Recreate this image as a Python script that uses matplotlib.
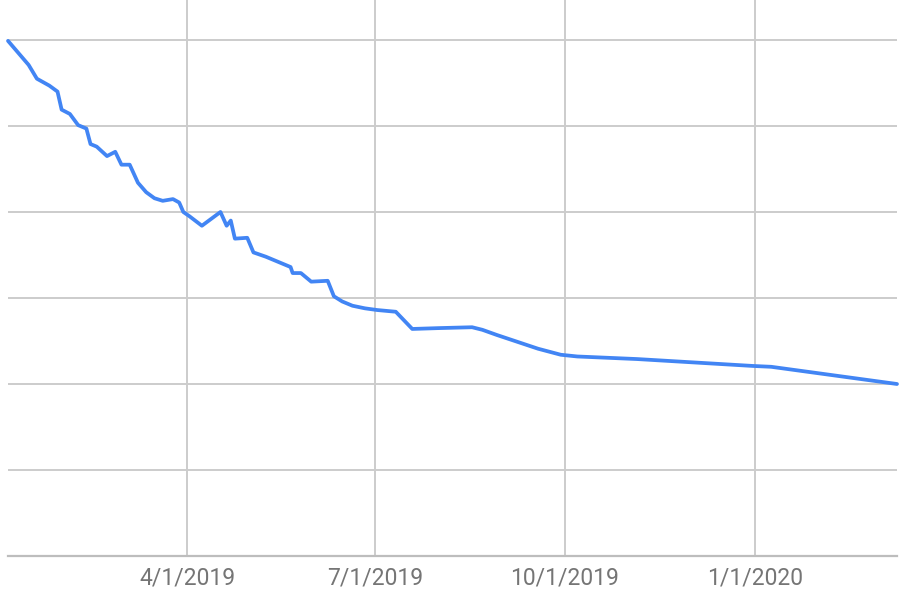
import matplotlib
matplotlib.use("Agg")
import matplotlib.pyplot as plt
import pandas as pd

dates = [
    "2019-01-04", "2019-01-14", "2019-01-18", "2019-01-24", "2019-01-28",
    "2019-01-30", "2019-02-03", "2019-02-07", "2019-02-11", "2019-02-13",
    "2019-02-16", "2019-02-21", "2019-02-25", "2019-02-28", "2019-03-04",
    "2019-03-08", "2019-03-12", "2019-03-16", "2019-03-20", "2019-03-25",
    "2019-03-28", "2019-03-30", "2019-04-02", "2019-04-08", "2019-04-17",
    "2019-04-20", "2019-04-22", "2019-04-24", "2019-04-30", "2019-05-03",
    "2019-05-09", "2019-05-21", "2019-05-22", "2019-05-26", "2019-05-31",
    "2019-06-08", "2019-06-11", "2019-06-15", "2019-06-20", "2019-06-26",
    "2019-07-02", "2019-07-11", "2019-07-19", "2019-08-01", "2019-08-17",
    "2019-08-22", "2019-08-29", "2019-09-08", "2019-09-18", "2019-09-29",
    "2019-10-07", "2019-11-05", "2019-12-31", "2020-01-09", "2020-03-10",
]
values = [
    59.9, 57.1, 55.5, 54.7, 54.0,
    51.9, 51.4, 50.1, 49.7, 47.9,
    47.6, 46.5, 47.0, 45.5, 45.5,
    43.4, 42.3, 41.6, 41.3, 41.5,
    41.1, 40.0, 39.5, 38.4, 40.0,
    38.4, 39.0, 36.9, 37.0, 35.3,
    34.8, 33.6, 32.9, 32.9, 31.9,
    32.0, 30.2, 29.6, 29.1, 28.8,
    28.6, 28.4, 26.4, 26.5, 26.6,
    26.3, 25.7, 24.9, 24.1, 23.4,
    23.2, 22.9, 22.1, 22.0, 20.0,
]
tick_dates = ["2019-04-01", "2019-07-01", "2019-10-01", "2020-01-01"]
tick_labels = ["4/1/2019", "7/1/2019", "10/1/2019", "1/1/2020"]
y_grid = [10, 20, 30, 40, 50, 60]

x = pd.to_datetime(dates)
ticks = pd.to_datetime(tick_dates)

fig = plt.figure(figsize=(9.19, 6.03), dpi=100)
ax = fig.add_axes([8 / 919, 47 / 603, 889 / 919, 556 / 603])

ax.plot(x, values, color="#4285F4", linewidth=2.7, solid_joinstyle="round",
        solid_capstyle="round", zorder=3, clip_on=False)

ax.set_xlim(pd.Timestamp("2019-01-04"), pd.Timestamp("2020-03-10"))
ax.set_ylim(0, 64.65)

ax.set_xticks(ticks)
ax.set_xticklabels(tick_labels, family="Roboto", fontsize=16.5, color="#757575")
ax.set_yticks(y_grid)
ax.set_yticklabels([])
ax.tick_params(axis="both", length=0)
ax.tick_params(axis="x", pad=7.5)

ax.grid(True, color="#cccccc", linewidth=1.4, zorder=0)
for s in ["top", "right", "left"]:
    ax.spines[s].set_visible(False)
ax.spines["bottom"].set_color("#bdbdbd")
ax.spines["bottom"].set_linewidth(1.6)
ax.set_axisbelow(True)

fig.savefig("out.png", dpi=100)
